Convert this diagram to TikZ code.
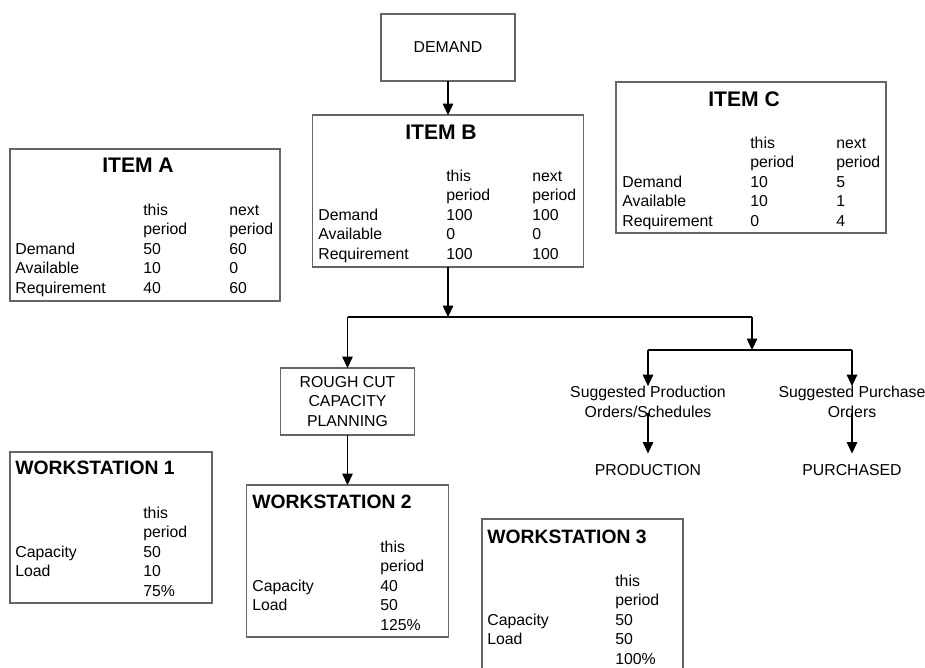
\documentclass[tikz,border=0pt]{standalone}
\usepackage{fontspec}
\setmainfont{Liberation Sans}
\usetikzlibrary{arrows.meta}

\newcommand{\bodyfont}{\fontsize{9}{11.1}\selectfont}
\tikzset{
  box/.style={draw=black!60, line width=0.8pt, inner sep=0pt, outer sep=0pt},
  ttl/.style={font=\fontsize{12}{14}\selectfont\bfseries, inner sep=0pt},
  wttl/.style={font=\fontsize{11}{13}\selectfont\bfseries, inner sep=0pt, anchor=west},
  tbl/.style={font=\bodyfont, inner sep=0pt, anchor=base west},
  lbl/.style={font=\bodyfont, inner sep=0pt, align=center},
  arr/.style={->, line width=0.6pt},
}

\begin{document}
\begin{tikzpicture}[x=0.02cm, y=-0.02cm, >={Triangle[length=6.5pt,width=6pt]}]
  \useasboundingbox (0,0) rectangle (925,667);
  %%% Top: demand and items
  \node[box, lbl, minimum width=2.68cm, minimum height=1.34cm] (demand) at (448,47.5) {DEMAND};

  \node[box, minimum width=5.42cm, minimum height=3.04cm] (itemB) at (448,191) {};
  \node[ttl] (itemBt) at (441,132) {ITEM B};
  \node[tbl] (itemBd) at (318,181) {\begin{tabular}[t]{@{}p{2.56cm}@{}p{1.72cm}@{}l@{}}
    & this & next\\
    & period & period\\
    Demand & 100 & 100\\
    Available & 0 & 0\\
    Requirement & 100 & 100
  \end{tabular}};

  \node[box, minimum width=5.4cm, minimum height=3.04cm] (itemA) at (145,225) {};
  \node[ttl] (itemAt) at (138,165) {ITEM A};
  \node[tbl] (itemAd) at (15,215) {\begin{tabular}[t]{@{}p{2.56cm}@{}p{1.72cm}@{}l@{}}
    & this & next\\
    & period & period\\
    Demand & 50 & 60\\
    Available & 10 & 0\\
    Requirement & 40 & 60
  \end{tabular}};

  \node[box, minimum width=5.4cm, minimum height=3.02cm] (itemC) at (751,157.5) {};
  \node[ttl] (itemCt) at (744,99) {ITEM C};
  \node[tbl] (itemCd) at (622,148) {\begin{tabular}[t]{@{}p{2.56cm}@{}p{1.72cm}@{}l@{}}
    & this & next\\
    & period & period\\
    Demand & 10 & 5\\
    Available & 10 & 1\\
    Requirement & 0 & 4
  \end{tabular}};

  %%% Middle: planning and suggested orders
  \node[box, lbl, minimum width=2.68cm, minimum height=1.34cm] (rough) at (347.5,401.5) {ROUGH CUT\\CAPACITY\\PLANNING};
  \node[lbl] (sugProd) at (648,402) {Suggested Production\\Orders/Schedules};
  \node[lbl] (sugPur) at (852,402) {Suggested Purchase\\Orders};
  \node[lbl] (prod) at (648,470) {PRODUCTION};
  \node[lbl] (purch) at (852,470) {PURCHASED};

  %%% Bottom: workstations
  \node[box, minimum width=4.04cm, minimum height=3.02cm] (ws1) at (111,527.5) {};
  \node[wttl] (ws1t) at (15,468) {WORKSTATION 1};
  \node[tbl] (ws1d) at (15,518) {\begin{tabular}[t]{@{}p{2.56cm}@{}l@{}}
    & this\\
    & period\\
    Capacity & 50\\
    Load & 10\\
    & 75\%
  \end{tabular}};

  \node[box, minimum width=4.04cm, minimum height=3.04cm] (ws2) at (347.5,561) {};
  \node[wttl] (ws2t) at (252,502) {WORKSTATION 2};
  \node[tbl] (ws2d) at (252,552) {\begin{tabular}[t]{@{}p{2.56cm}@{}l@{}}
    & this\\
    & period\\
    Capacity & 40\\
    Load & 50\\
    & 125\%
  \end{tabular}};

  \node[box, minimum width=4.02cm, minimum height=3.02cm] (ws3) at (582.5,594.5) {};
  \node[wttl] (ws3t) at (487,537) {WORKSTATION 3};
  \node[tbl] (ws3d) at (487,586) {\begin{tabular}[t]{@{}p{2.56cm}@{}l@{}}
    & this\\
    & period\\
    Capacity & 50\\
    Load & 50\\
    & 100\%
  \end{tabular}};

  %%% Connectors
  \coordinate (jB) at (448,317);
  \coordinate (jL) at (347.5,317);
  \coordinate (jR) at (752,317);
  \coordinate (jS) at (752,350);
  \coordinate (jP) at (648,350);
  \coordinate (jQ) at (852,350);

  \draw[arr] (demand) -- (itemB);
  \draw[arr] (itemB) -- (jB);
  \draw[line width=0.6pt] (jL) -- (jR);
  \draw[arr] (jL) -- (rough);
  \draw[arr] (jR) -- (jS);
  \draw[line width=0.6pt] (jP) -- (jQ);
  \draw[arr] (jP) -- (sugProd);
  \draw[arr] (jQ) -- (sugPur);
  \draw[arr, shorten <=-3pt, shorten >=6pt] (sugProd.south) -- (prod.north);
  \draw[arr, shorten <=-3pt, shorten >=6pt] (sugPur.south) -- (purch.north);
  \draw[arr] (rough) -- (ws2);
\end{tikzpicture}
\end{document}
